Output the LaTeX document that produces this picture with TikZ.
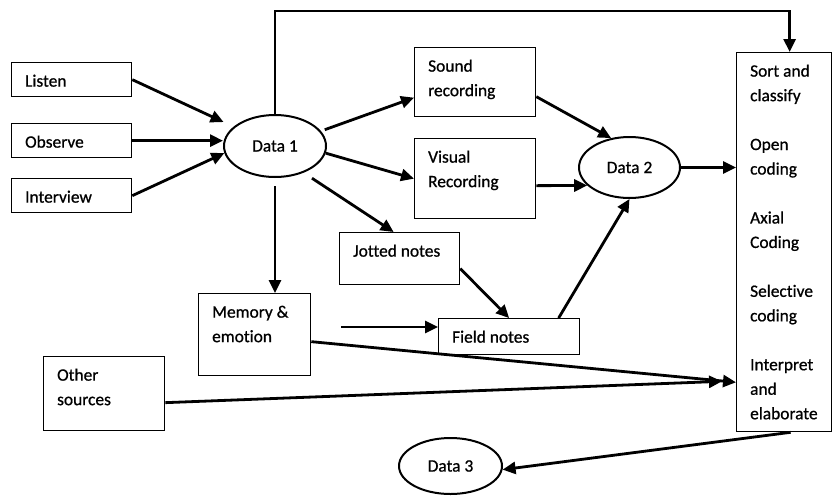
\documentclass[tikz,border=0pt]{standalone}
\usepackage{fontspec}
\setmainfont{Carlito}[Ligatures=NoCommon, FakeBold=0.8]
\usetikzlibrary{arrows.meta,calc,shapes.geometric}

% fixed-size box content: text hangs from the top-left corner
\newcommand{\boxtext}[3]{\parbox[c][#2pt][t]{#1pt}{\raggedright\leftskip=13.5pt\rule{0pt}{24pt}#3}}

\begin{document}
\begin{tikzpicture}[x=1pt,y=-1pt,
  every node/.style={font=\fontsize{17.4}{24.5}\selectfont},
  boxed/.style={draw, line width=1.3pt, inner sep=0pt, anchor=north west},
  ell/.style={draw, ellipse, line width=2pt, inner sep=0pt, minimum width=102pt, minimum height=62pt},
  conn/.style={line width=2.8pt, -{Triangle[length=13pt,width=12pt]}}]
\useasboundingbox (0,0) rectangle (832,499);

% sources
\node[boxed] (listen) at (11,62) {\boxtext{120}{34}{Listen}};
\node[boxed] (observe) at (11,123) {\boxtext{120}{34}{Observe}};
\node[boxed] (interview) at (11,178) {\boxtext{120}{34}{Interview}};
\node[ell] (data1) at (275,146) {Data 1\hspace{6pt}};

% records
\node[boxed] (sound) at (414,47) {\boxtext{121}{69}{Sound\\recording}};
\node[boxed] (visual) at (414,138) {\boxtext{121}{80}{Visual\\Recording}};
\node[ell, minimum width=101pt, minimum height=61pt] (data2) at (629.5,167.5) {Data 2};
\node[boxed] (jotted) at (339,232) {\boxtext{120}{52}{Jotted notes}};
\node[boxed] (memory) at (198,293) {\boxtext{112}{82}{Memory \&\\emotion}};
\node[boxed] (field) at (438,318) {\boxtext{141}{36}{Field notes}};
\node[boxed] (other) at (43,356) {\boxtext{121}{74}{Other\\sources}};

% analysis steps
\node[boxed] (steps) at (736,52) {\boxtext{95}{379}{Sort and\\classify\\[24.4pt]Open\\coding\\[24.4pt]Axial\\Coding\\[24.4pt]Selective\\coding\\[24.4pt]Interpret\\and\\elaborate}};
\node[ell, minimum width=103pt, minimum height=56pt] (data3) at (450.5,466) {Data 3};

% connectors
\draw[conn, shorten >=11pt] (listen.east) -- (data1.155);
\draw[conn] (observe.east) -- (observe.east -| data1.west);
\draw[conn] (interview.east) -- (data1.188);
\draw[conn] (data1.north) -- ++(0,-103) -| ([xshift=5.5pt]steps.north);
\draw[conn, shorten <=4pt] (data1.18) -- ([yshift=-15.5pt]sound.west);
\draw[conn] (data1.-8) -- (visual.west);
\draw[conn, shorten <=10pt] (data1.-43) -- ([xshift=-6pt]jotted.north);
\draw[conn, shorten <=8pt] (data1.south) -- (data1.south |- memory.north);
\draw[conn] ([yshift=-14.5pt]sound.east) -- (data2.122);
\draw[conn] ([yshift=-7pt]visual.east) -- (data2.203);
\draw[conn] (data2.east) -- (data2.east -| steps.west);
\draw[conn] ([yshift=-10pt]jotted.east) -- (field.north);
\coordinate (memtail) at (341,327);
\draw[conn] (memtail) -- (memtail -| field.west);
\draw[conn] ([xshift=49.5pt]field.north) -- (data2.south);
\draw[conn] ([yshift=-7pt]memory.east) -- ($(steps.south west)+(0,-50)$);
\draw[conn] ([yshift=-9pt]other.east) -- ($(steps.south west)+(-14,-51)$);
\draw[conn] ([xshift=6.5pt]steps.south) -- (data3.-4);
\end{tikzpicture}
\end{document}
